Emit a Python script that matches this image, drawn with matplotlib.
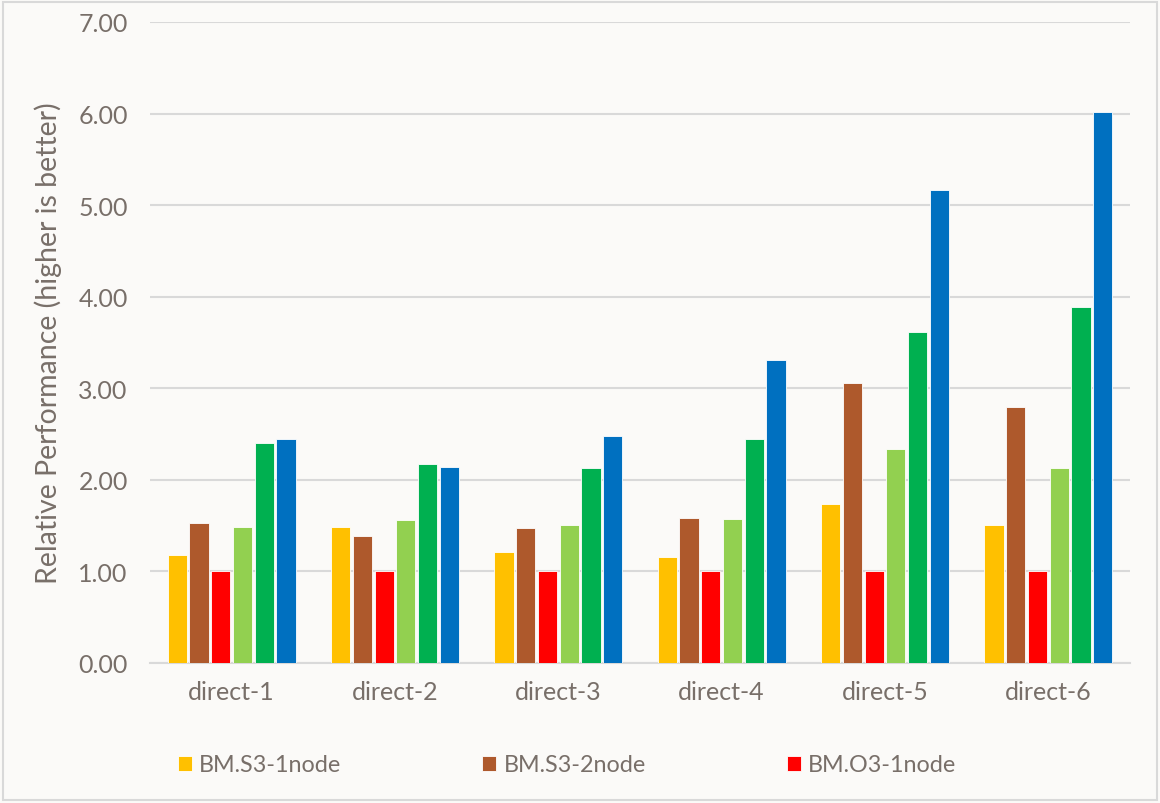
import numpy as np
from matplotlib import pyplot as plt
from matplotlib.patches import Rectangle

plt.rcParams['font.family'] = ['Lato', 'DejaVu Sans']

categories = ['direct-1', 'direct-2', 'direct-3', 'direct-4', 'direct-5', 'direct-6']
series_names = ['BM.S3-1node', 'BM.S3-2node', 'BM.O3-1node',
                'series-4', 'series-5', 'series-6']
s3_1node = [1.18, 1.49, 1.21, 1.16, 1.74, 1.51]
s3_2node = [1.53, 1.39, 1.47, 1.58, 3.06, 2.80]
o3_1node = [1.00, 1.00, 1.00, 1.00, 1.00, 1.00]
series_4 = [1.49, 1.56, 1.51, 1.57, 2.34, 2.13]
series_5 = [2.40, 2.17, 2.13, 2.45, 3.61, 3.89]
series_6 = [2.45, 2.14, 2.48, 3.31, 5.17, 6.02]
yticks = [0, 1, 2, 3, 4, 5, 6, 7]

values = [s3_1node, s3_2node, o3_1node, series_4, series_5, series_6]
colors = ['#FFC000', '#AE592C', '#FF0000', '#92D050', '#00B050', '#0070C0']
text_col = '#786F69'
bg = '#FBFAF8'

fig = plt.figure(figsize=(11.6, 8.04), dpi=100, facecolor=bg)
fig.add_artist(Rectangle((0.003, 0.004), 0.994, 0.992, transform=fig.transFigure,
                         fill=False, edgecolor='#D9D9D9', linewidth=1.5))
ax = fig.add_axes([150 / 1160, 1 - 664 / 804, 980 / 1160, 641 / 804], facecolor=bg)

x = np.arange(len(categories))
step = 0.133
width = 0.118
handles = []
for i, (vals, c) in enumerate(zip(values, colors)):
    b = ax.bar(x + (i - 2.5) * step, vals, width, color=c, label=series_names[i],
               edgecolor='white', linewidth=0.6, zorder=3)
    handles.append(b)

ax.set_xlim(-0.5, len(categories) - 0.5)
ax.set_ylim(0, 7)
ax.set_yticks(yticks)
ax.set_yticklabels(['%.2f' % t for t in yticks])
ax.set_xticks(x)
ax.set_xticklabels(categories)
ax.grid(axis='y', color='#D9D9D9', linewidth=1.5, zorder=0)
for s in ['top', 'right', 'left']:
    ax.spines[s].set_visible(False)
ax.spines['bottom'].set_color('#D9D9D9')
ax.spines['bottom'].set_linewidth(1.5)
ax.tick_params(axis='both', length=0, colors=text_col)
ax.tick_params(axis='y', labelsize=18, pad=16)
ax.tick_params(axis='x', labelsize=18, pad=12)
ax.set_ylabel('Relative Performance (higher is better)', fontsize=20.5,
              color=text_col, labelpad=12)

fig.legend(handles[:3], series_names[:3], loc='center left',
           bbox_to_anchor=(157 / 1160, 1 - 766 / 804), ncol=3, frameon=False,
           fontsize=16.8, handlelength=0.6, handleheight=0.6, handletextpad=0.3,
           columnspacing=6.05, labelcolor=text_col)

plt.savefig('out.png', dpi=100, facecolor=bg)
